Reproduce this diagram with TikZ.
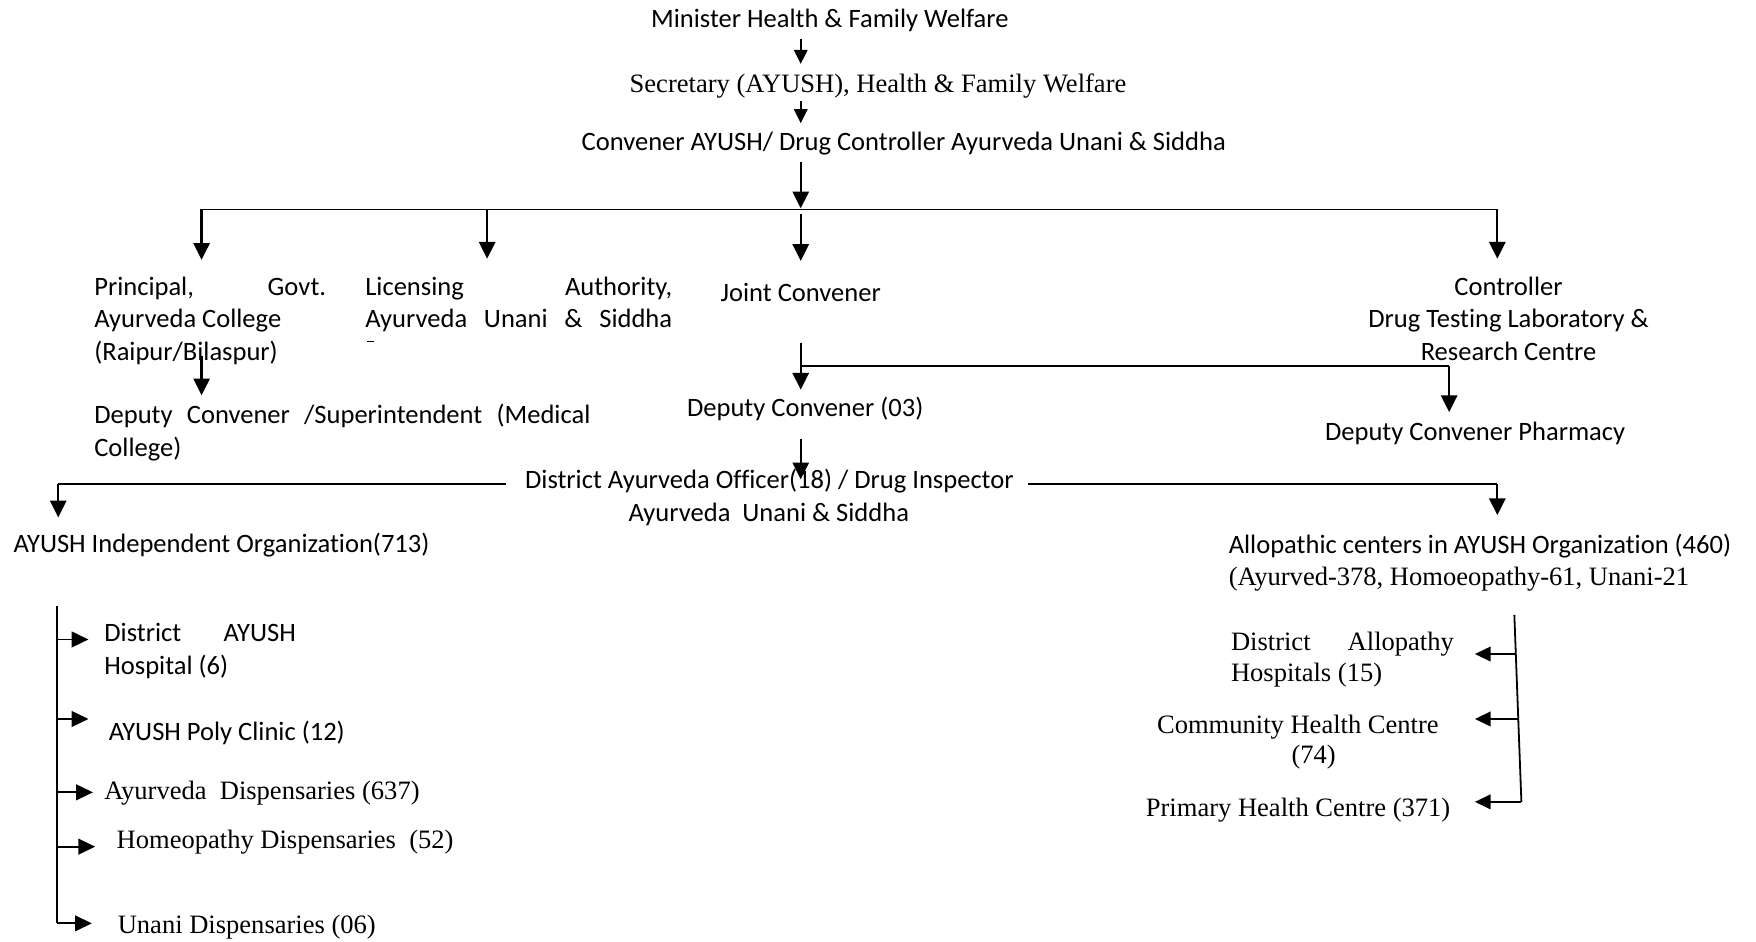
\documentclass[tikz,border=0pt]{standalone}
\usepackage{fontspec}
\setmainfont{Carlito}[Ligatures=CommonOff]
\newfontfamily\tms{Liberation Serif}
\usetikzlibrary{arrows.meta}
\begin{document}
\begin{tikzpicture}[x=1pt,y=-1pt,
  every node/.style={inner sep=0pt, font=\fontsize{23.7}{29}\selectfont},
  tt/.style={font=\tms\fontsize{23.7}{28}\selectfont},
  lt/.style={anchor=base west},
  ct/.style={anchor=base},
  ln/.style={line width=1.6pt},
  arr/.style={line width=2pt,-{Triangle[length=15pt,width=14.5pt]}},
  arrs/.style={line width=1.8pt,-{Triangle[length=12.5pt,width=12pt]}},
  arrh/.style={line width=1.7pt,-{Triangle[length=15pt,width=14pt]}},
  arrr/.style={line width=1.7pt,-{Triangle[length=14pt,width=13pt]}},
]
\useasboundingbox (0,0) rectangle (1568,841);

% ---- texts ----
\node[ct] (min) at (741,24.5) {Minister Health \& Family Welfare};
\node[ct,tt] (sec) at (784,82.5) {Secretary (AYUSH), Health \& Family Welfare};
\node[ct] (conv) at (807,134.5) {Convener AYUSH/ Drug Controller Ayurveda Unani \& Siddha};

\node[lt] (prin) at (84,263.5) {\parbox[t]{207pt}{\makebox[207pt][s]{Principal, Govt.}\\Ayurveda College\\(Raipur/Bilaspur)}};
\node[lt] (lic) at (326,263.5) {\parbox[t]{274pt}{\makebox[274pt][s]{Licensing Authority,}\\\makebox[274pt][s]{Ayurveda Unani \& Siddha}}};
\node[ct] (jc) at (715,269.5) {Joint Convener};
\node[ct] (ctrl) at (1347,263.5) {\parbox[t]{320pt}{\centering Controller\\Drug Testing Laboratory \&\\Research Centre}};

\node[lt] (dsup) at (84,378.5) {\parbox[t]{443pt}{\makebox[443pt][s]{Deputy Convener /Superintendent (Medical}\\College)}};
\node[ct] (d03) at (719,371.5) {Deputy Convener (03)};
\node[lt] (dph) at (1183,393.5) {Deputy Convener Pharmacy};

\node[ct] (dao) at (687,436.5) {District Ayurveda Officer(18) / Drug Inspector};
\node[ct] (dao2) at (686.5,465.5) {Ayurveda\ \ Unani \& Siddha};

\node[lt] (indep) at (12,493.5) {AYUSH Independent Organization(713)};
\node[lt] (allo) at (1097,494.5) {Allopathic centers in AYUSH Organization (460)};
\node[lt,tt] (allo2) at (1097,522.5) {(Ayurved-378, Homoeopathy-61, Unani-21};

\node[lt] (dah) at (93,573) {\parbox[t]{171pt}{\makebox[171pt][s]{District AYUSH}\\Hospital (6)}};
\node[lt] (poly) at (97,661) {AYUSH Poly Clinic (12)};
\node[lt,tt] (ayd) at (93,713.5) {Ayurveda\ \ Dispensaries (637)};
\node[lt,tt] (hom) at (104,758) {Homeopathy Dispensaries\ \ (52)};
\node[lt,tt] (una) at (105,833.5) {Unani Dispensaries (06)};

\node[lt,tt] (dal) at (1099,580.5) {\parbox[t]{199pt}{\makebox[199pt][s]{District Allopathy}\\Hospitals (15)}};
\node[lt,tt] (chc) at (1033,655) {Community Health Centre};
\node[ct,tt] (chc2) at (1173,681.5) {(74)};
\node[lt,tt] (phc) at (1023,729.5) {Primary Health Centre (371)};

% small stray mark under Licensing block
\draw[line width=0.8pt] (328,305) -- (334,305);

% ---- connector points ----
\coordinate (a1) at (715,35);   \coordinate (a2) at (715,57);
\coordinate (b1) at (715,90);   \coordinate (b2) at (715,110);
\coordinate (c1) at (715,145);  \coordinate (c2) at (715,186);
\coordinate (hL) at (180,187);  \coordinate (hR) at (1337,187);
\coordinate (tL) at (180,232);  \coordinate (tR) at (1337,231);
\coordinate (hLic) at (435,187); \coordinate (tLic) at (435,231);
\coordinate (hJ) at (715,191);  \coordinate (tJ) at (715,233);
\coordinate (p1) at (180,318);  \coordinate (p2) at (180,353);
\coordinate (j1) at (715,306);  \coordinate (j2) at (715,348);
\coordinate (jb) at (715,327);  \coordinate (jc1) at (1294,327); \coordinate (jc2) at (1294,368);
\coordinate (e1) at (715,392);  \coordinate (e2) at (715,428);
\coordinate (gL1) at (452,432); \coordinate (gL2) at (52,432); \coordinate (gL3) at (52,462);
\coordinate (gR1) at (918,432); \coordinate (gR2) at (1337,432); \coordinate (gR3) at (1337,460);
% left bracket
\coordinate (vL1) at (51,541);  \coordinate (vL2) at (51,824.5); \coordinate (vL3) at (82,824.5);
\coordinate (l1a) at (51,571)   ; \coordinate (l1b) at (79,571);
\coordinate (l2a) at (51,642)   ; \coordinate (l2b) at (79,642);
\coordinate (l3a) at (51,707.5) ; \coordinate (l3b) at (83,707.5);
\coordinate (l4a) at (51,756)   ; \coordinate (l4b) at (85,756);
% right bracket
\coordinate (vR1) at (1352.2,549); \coordinate (vR2) at (1358.5,716); \coordinate (vR3) at (1317,716);
\coordinate (r1a) at (1353.5,584); \coordinate (r1b) at (1317,584);
\coordinate (r2a) at (1355.5,642); \coordinate (r2b) at (1317,642);

% ---- connectors ----
\draw[arrs] (a1) -- (a2);
\draw[arrs] (b1) -- (b2);
\draw[arr] (c1) -- (c2);
\draw[ln] (hL) -- (hR);
\draw[arr] (hL) -- (tL);
\draw[arr] (hR) -- (tR);
\draw[arr] (hLic) -- (tLic);
\draw[arr] (hJ) -- (tJ);
\draw[arr] (p1) -- (p2);
\draw[arr] (j1) -- (j2);
\draw[ln] (jb) -- (jc1);
\draw[arr] (jc1) -- (jc2);
\draw[arr] (e1) -- (e2);
\draw[ln] (gL1) -- (gL2);
\draw[arr] (gL2) -- (gL3);
\draw[ln] (gR1) -- (gR2);
\draw[arr] (gR2) -- (gR3);

\draw[ln] (vL1) -- (vL2);
\draw[arrh] (vL2) -- (vL3);
\draw[arrh] (l1a) -- (l1b);
\draw[arrh] (l2a) -- (l2b);
\draw[arrh] (l3a) -- (l3b);
\draw[arrh] (l4a) -- (l4b);

\draw[ln] (vR1) -- (vR2);
\draw[arrr] (vR2) -- (vR3);
\draw[arrr] (r1a) -- (r1b);
\draw[arrr] (r2a) -- (r2b);
\end{tikzpicture}
\end{document}
